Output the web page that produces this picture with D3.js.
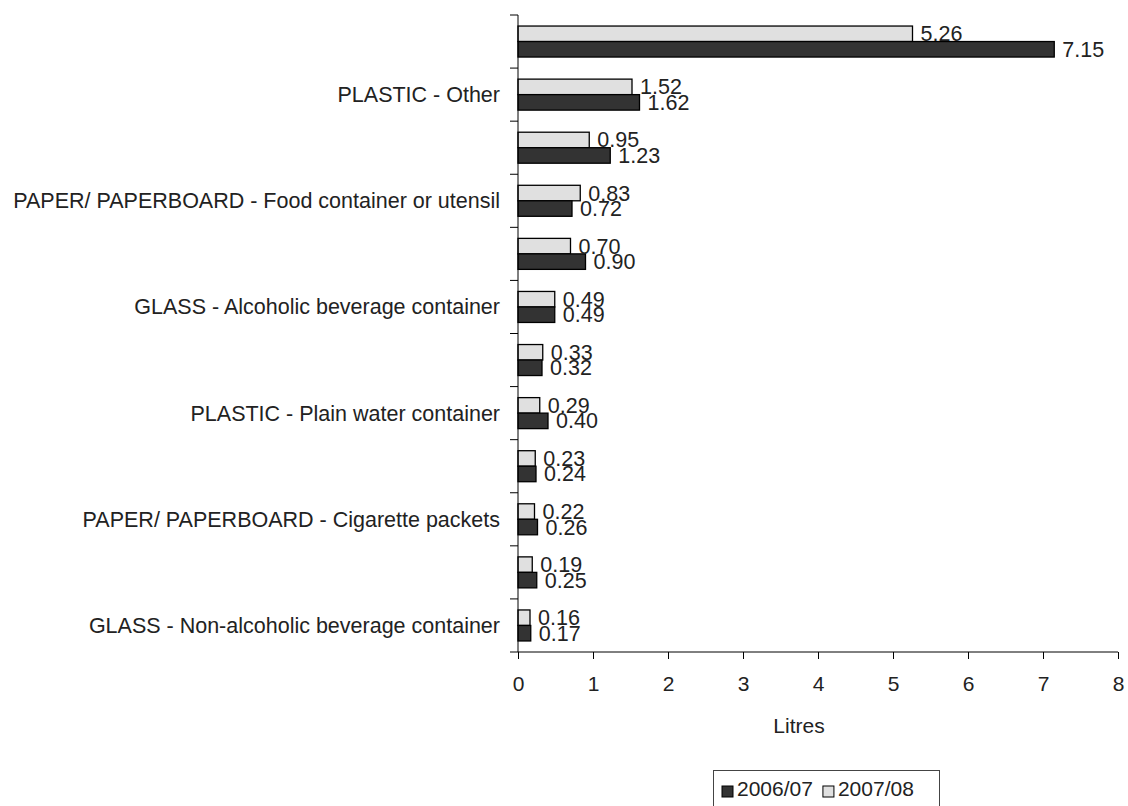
<!DOCTYPE html>
<html><head><meta charset="utf-8">
<script src="https://cdn.jsdelivr.net/npm/d3@7"></script>
<style>
body{margin:0;background:#fff;}
text{font-family:"Liberation Sans",Arial,sans-serif;fill:#222;}
</style></head>
<body><svg id="c" width="1128" height="806"></svg>
<script>
const categories = [
  "", "PLASTIC - Other", "", "PAPER/ PAPERBOARD - Food container or utensil",
  "", "GLASS - Alcoholic beverage container", "", "PLASTIC - Plain water container",
  "", "PAPER/ PAPERBOARD - Cigarette packets", "", "GLASS - Non-alcoholic beverage container"
];
const series = ["2006/07", "2007/08"];
const values0607 = [7.15, 1.62, 1.23, 0.72, 0.90, 0.49, 0.32, 0.40, 0.24, 0.26, 0.25, 0.17];
const values0708 = [5.26, 1.52, 0.95, 0.83, 0.70, 0.49, 0.33, 0.29, 0.23, 0.22, 0.19, 0.16];
const xTicks = [0,1,2,3,4,5,6,7,8];
const axisTitle = "Litres";

const colors = {"2006/07":"#333333","2007/08":"#e0e0e0"};
const svg = d3.select("#c");
const x0 = 518, x1 = 1118, yTop = 15, yBot = 652;
const x = d3.scaleLinear().domain([0,8]).range([x0,x1]);
const idx = d3.range(categories.length);
const y = d3.scaleBand().domain(idx).range([yTop,yBot]).paddingInner(0.416).paddingOuter(0.208);
const sub = d3.scaleBand().domain(["2007/08","2006/07"]).range([0,y.bandwidth()]);

// bars
const rows = idx.map(i => ({i, vals:[{s:"2007/08",v:values0708[i]},{s:"2006/07",v:values0607[i]}]}));
const g = svg.append("g");
rows.forEach(r => {
  r.vals.forEach(d => {
    const yy = y(r.i) + sub(d.s);
    g.append("rect").attr("x", x(0)).attr("y", yy).attr("width", x(d.v)-x(0)).attr("height", sub.bandwidth())
      .attr("fill", colors[d.s]).attr("stroke","#000").attr("stroke-width",1.3);
  });
});
rows.forEach(r => {
  r.vals.forEach(d => {
    const yy = y(r.i) + sub(d.s);
    g.append("text").attr("x", x(d.v)+8).attr("y", yy + sub.bandwidth()/2 + 7.5)
      .attr("font-size",21.5).text(d.v.toFixed(2));
  });
});

// y axis
const step = (yBot-yTop)/categories.length;
svg.append("line").attr("x1",x0).attr("x2",x0).attr("y1",yTop).attr("y2",yBot).attr("stroke","#000");
d3.range(categories.length+1).forEach(k=>{
  svg.append("line").attr("x1",x0-8).attr("x2",x0).attr("y1",yTop+k*step).attr("y2",yTop+k*step).attr("stroke","#000");
});
idx.forEach(i=>{
  if(categories[i]) svg.append("text").attr("x",500).attr("y",y(i)+y.bandwidth()/2+7.5)
    .attr("text-anchor","end").attr("font-size",21.5).text(categories[i]);
});

// x axis
const xa = d3.axisBottom(x).tickValues(xTicks).tickSize(7).tickPadding(17).tickFormat(d3.format("d"));
const ax = svg.append("g").attr("transform",`translate(0,${yBot})`).call(xa);
ax.select(".domain").attr("d",`M${x0},0H${x1}`).attr("stroke","#000");
ax.selectAll(".tick line").attr("stroke","#000");
ax.selectAll(".tick text").attr("font-size",21).attr("fill","#222").attr("font-family","Liberation Sans, Arial, sans-serif");
svg.append("text").attr("x",799).attr("y",733).attr("text-anchor","middle").attr("font-size",21).text(axisTitle);

// legend
const lg = svg.append("g");
lg.append("rect").attr("x",713.5).attr("y",770.5).attr("width",226).attr("height",40).attr("fill","#fff").attr("stroke","#444");
let lx = 722;
series.forEach(s=>{
  lg.append("rect").attr("x",lx).attr("y",786).attr("width",11).attr("height",11).attr("fill",colors[s]).attr("stroke","#000");
  const t = lg.append("text").attr("x",lx+15).attr("y",796).attr("font-size",21).text(s);
  lx += 15 + t.node().getComputedTextLength() + 10;
});
</script></body></html>
